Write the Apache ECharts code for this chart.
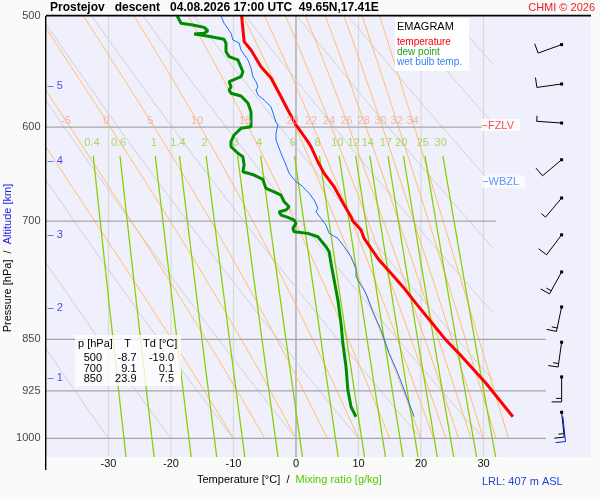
<!DOCTYPE html>
<html><head><meta charset="utf-8">
<script src="https://cdn.jsdelivr.net/npm/echarts@6/dist/echarts.min.js"></script>
<style>html,body{margin:0;padding:0;background:#fafafa}#c{width:600px;height:500px}</style>
</head><body><div id="c"></div>
<script>
// ---------------- data ----------------
const pressureTicks = [500, 600, 700, 850, 925, 1000];
const isotherms = [-30, -20, -10, 0, 10, 20, 30];
const isobars = [600, 700, 850, 925, 1000];
const isobarEndT = [31, 32, 40, 40, 40];
const altKm = [1, 2, 3, 4, 5];
const altP = [905.7, 807, 716, 634, 561];
const mixRatios = [0.4, 0.6, 1, 1.4, 2, 3, 4, 6, 8, 10, 12, 14, 17, 20, 25, 30];
const thetaW = [-10, -5, 0, 5, 10, 15, 20, 22, 24, 26, 28, 30, 32, 34];
const thetaDry = [-30, -20, -10, 0, 10, 20, 30, 40, 50, 60, 70, 80, 90];
// profiles: [pressure hPa, value degC]
const temperature = [[500,-8.7],[521.5,-8.3],[528.7,-7.2],[543.4,-5.6],[553.6,-4.0],[570.8,-2.4],[583.4,-1.3],[597.9,0.0],[614.5,1.9],[619.6,2.4],[635.1,3.5],[647.3,4.5],[661.7,6.1],[681.9,7.7],[695.1,8.8],[700,9.1],[710.4,10.4],[720.2,10.9],[732.1,12.0],[746.3,13.3],[762.7,15.2],[781.7,17.3],[801.2,19.2],[825.8,21.6],[850,23.9],[872.1,26.3],[913.5,30.4],[965.1,34.7]];
const dewPoint = [[500,-19.0],[506,-18.4],[507.4,-16.5],[509.4,-14.7],[512.2,-14.1],[514.4,-14.7],[515.0,-16.3],[516.0,-15.0],[517.3,-13.6],[519.5,-11.5],[522.9,-11.2],[530.2,-11.2],[534.5,-10.7],[537.4,-9.3],[547.9,-8.5],[552.4,-8.8],[555.4,-10.1],[556.9,-10.7],[561.5,-10.4],[564.6,-10.7],[567.6,-10.4],[570.2,-8.8],[576.7,-7.7],[585.1,-7.2],[599.6,-7.2],[601.2,-8.8],[607.8,-9.9],[614.5,-10.4],[619.6,-10.4],[626.3,-9.3],[629.9,-8.5],[638.5,-8.3],[645.6,-8.5],[649.1,-6.7],[653.7,-5.3],[658.0,-5.1],[663.4,-4.8],[667.2,-3.5],[670.8,-2.4],[678.2,-1.9],[683.8,-1.1],[687.5,-1.6],[689.4,-2.7],[693.2,-2.4],[695.8,-1.3],[698.9,-0.3],[702.7,0.0],[708.5,-0.5],[712.4,-0.3],[714.3,1.9],[718.3,3.5],[730.2,4.8],[736.2,5.3],[750.3,5.6],[771.2,6.1],[796.9,6.7],[828.0,7.2],[855.5,7.5],[889.0,8.0],[923.7,8.3],[949.4,8.8],[965.1,9.6]];
const wetBulb = [[500,-12.0],[506,-11.5],[514.2,-10.4],[515.8,-10.7],[520.1,-10.1],[522.6,-9.1],[528.7,-8.8],[537.4,-7.7],[544.5,-7.2],[552.4,-6.9],[556.9,-6.4],[561.5,-6.1],[564.6,-6.4],[569.2,-6.1],[573.9,-5.1],[580.3,-4.0],[595.1,-3.2],[597.9,-2.9],[605.8,-3.2],[612.8,-3.2],[626.3,-2.4],[638.5,-1.6],[647.3,-1.1],[656.3,0.0],[659.8,0.8],[668.9,2.1],[676.3,2.9],[685.6,3.5],[689.4,3.2],[696.9,4.0],[704.6,4.8],[714.3,5.3],[720.2,6.7],[730.2,7.7],[742.2,8.8],[756.5,9.6],[767.0,9.6],[788.2,11.2],[812.4,12.3],[837.1,13.6],[869.6,14.9],[898.7,16.3],[931.3,17.6],[965.1,18.9]];
// wind barbs
const windP = [958, 904, 854, 806, 761, 716, 674, 633, 596, 559, 524];
const windDir = [174, 180, 188, 192, 209, 217, 220, 230, 274, 262, 250];
const windSpd = [15, 15, 15, 15, 15, 10, 5, 10, 5, 10, 10];
const sfcWind = [965, 174, 10];
const fzlvP = 598, wbzlP = 656;
const tableP = [500, 700, 850];
const tableT = [-8.7, 9.1, 23.9];
const tableTd = [-19.0, 0.1, 7.5];

// ---------------- thermodynamics for the diagram background ----------------
const PTOP = 500, PBOT = 1031;
function esat(tc) { return 6.112 * Math.exp(17.67 * tc / (tc + 243.5)); }
function mixT(w, p) { const e = w * p / (622 + w); const l = Math.log(e / 6.112); return 243.5 * l / (17.67 - l); }
function dryT(th, p) { return (th + 273.15) * Math.pow(p / 1000, 0.2857) - 273.15; }
function moistLapse(p, T) {
  const e = esat(T - 273.15); const rs = 0.622 * e / (p - e);
  return (287.04 * T + 2.501e6 * rs) / (1005.7 + 2.501e6 * 2.501e6 * rs * 0.622 / (287.04 * T * T)) / p;
}
function moistLine(tw) {
  let p = 1000, T = tw + 273.15; const pts = [[tw, 1000]]; const dp = -2;
  while (p > PTOP + 0.01) {
    const k1 = moistLapse(p, T), k2 = moistLapse(p + dp / 2, T + k1 * dp / 2),
      k3 = moistLapse(p + dp / 2, T + k2 * dp / 2), k4 = moistLapse(p + dp, T + k3 * dp);
    T += dp * (k1 + 2 * k2 + 2 * k3 + k4) / 6; p += dp; pts.push([T - 273.15, p]);
  }
  return pts;
}
const FONT = 'Liberation Sans, Arial, sans-serif';
const series = [];
const lineBase = { type: 'line', showSymbol: false, symbol: 'none', silent: true, animation: false };

isotherms.forEach(t => series.push(Object.assign({}, lineBase, {
  z: 1, data: [[t, PTOP], [t, PBOT]],
  lineStyle: { color: t === 0 ? '#9c9c9c' : '#d9d9d9', width: 1.2 }
})));
const TCLIP = 31.5;
thetaDry.forEach(th => {
  const pc = 1000 * Math.pow((TCLIP + 273.15) / (th + 273.15), 1 / 0.2857);
  const pStart = Math.min(1000, pc);
  if (pStart <= PTOP) return;
  const pts = [];
  for (let p = pStart; p > PTOP; p -= 5) pts.push([dryT(th, p), p]);
  pts.push([dryT(th, PTOP), PTOP]);
  series.push(Object.assign({}, lineBase, { z: 2, data: pts, lineStyle: { color: '#d0d0d0', width: 1 } }));
});
const moistLabels = [];
thetaW.forEach(tw => {
  const pts = moistLine(tw);
  series.push(Object.assign({}, lineBase, { z: 3, data: pts, lineStyle: { color: '#ffbc6a', width: 1 } }));
  const lp = pts.reduce((a, b) => Math.abs(b[1] - 594) < Math.abs(a[1] - 594) ? b : a);
  if (lp[0] > -38.5) moistLabels.push([lp[0], 594, tw]);
});
const mixLabels = [];
mixRatios.forEach(w => {
  const pts = [];
  for (let p = 629; p < PBOT; p += 10) pts.push([mixT(w, p), p]);
  pts.push([mixT(w, PBOT), PBOT]);
  series.push(Object.assign({}, lineBase, { z: 4, data: pts, lineStyle: { color: '#8ad000', width: 1.3 } }));
  mixLabels.push([mixT(w, 616), 616, w]);
});
isobars.forEach((p, i) => series.push(Object.assign({}, lineBase, {
  z: 5, data: [[-40, p], [isobarEndT[i], p]], lineStyle: { color: '#a6a6a6', width: 1.3 }
})));
series.push(Object.assign({}, lineBase, { z: 10, data: wetBulb.map(d => [d[1], d[0]]), lineStyle: { color: '#1c6dff', width: 1 } }));
series.push(Object.assign({}, lineBase, { z: 11, data: dewPoint.map(d => [d[1], d[0]]), lineStyle: { color: '#008c00', width: 3 } }));
series.push(Object.assign({}, lineBase, { z: 12, data: temperature.map(d => [d[1], d[0]]), lineStyle: { color: '#ff0000', width: 3 } }));

const labelBase = { type: 'scatter', silent: true, animation: false, symbolSize: 1, itemStyle: { color: 'rgba(0,0,0,0)' }, clip: false };
series.push(Object.assign({}, labelBase, {
  z: 15, data: moistLabels,
  label: { show: true, position: 'inside', formatter: p => String(p.value[2]), color: '#f3a595', fontSize: 11, fontFamily: FONT }
}));
series.push(Object.assign({}, labelBase, {
  z: 15, data: mixLabels,
  label: { show: true, position: 'inside', formatter: p => String(p.value[2]), color: '#98d03c', fontSize: 11, fontFamily: FONT }
}));
series.push(Object.assign({}, labelBase, {
  z: 15, data: pressureTicks.map(p => [-39.99, p]),
  label: { show: true, position: 'left', distance: 5, formatter: p => String(p.value[1]), color: '#111', fontSize: 11, fontFamily: FONT }
}));
series.push(Object.assign({}, labelBase, {
  z: 15, data: altP.map((p, i) => [-39.99, p, altKm[i]]),
  label: { show: true, position: 'right', distance: 1, formatter: p => '\u2013 ' + p.value[2], color: '#1a1ae6', fontSize: 11, fontFamily: FONT }
}));
series.push(Object.assign({}, labelBase, {
  z: 16, data: [[29.6, fzlvP, '\u2212FZLV', 0], [29.7, wbzlP, '\u2212WBZL', 1]],
  label: {
    show: true, position: 'right', distance: 0, fontSize: 11, fontFamily: FONT,
    formatter: p => p.value[3] ? '{b|' + p.value[2] + '}' : '{r|' + p.value[2] + '}',
    backgroundColor: '#ffffff', padding: [1, 6, 0, 0],
    rich: { r: { color: '#ff2020', fontSize: 11, fontFamily: FONT }, b: { color: '#3377ff', fontSize: 11, fontFamily: FONT } }
  }
}));
const barbX = 42.5;
series.push({
  type: 'custom', coordinateSystem: 'cartesian2d', z: 20, silent: true, animation: false, clip: false,
  encode: { x: 0, y: 1 },
  data: windP.map((p, i) => [barbX, p, windDir[i], windSpd[i], 0]).concat([[barbX + 0.2, sfcWind[0], sfcWind[1], sfcWind[2], 1]]),
  renderItem: function (params, api) {
    const pt = api.coord([api.value(0), api.value(1)]);
    const d = api.value(2) * Math.PI / 180, spd = api.value(3), blue = api.value(4) === 1;
    const col = blue ? '#0a1cff' : '#000000';
    const ux = Math.sin(d), uy = -Math.cos(d), L = 25;
    const tip = [pt[0] + ux * L, pt[1] + uy * L];
    const bx = -uy, by = ux;
    const ch = [{ type: 'line', shape: { x1: pt[0], y1: pt[1], x2: tip[0], y2: tip[1] }, style: { stroke: col, lineWidth: 1 } }];
    let full = Math.floor(spd / 10), half = (spd - full * 10) >= 5 ? 1 : 0, pos = 0;
    const add = (len) => {
      const sx = tip[0] - ux * pos, sy = tip[1] - uy * pos;
      ch.push({ type: 'line', shape: { x1: sx, y1: sy, x2: sx + bx * len, y2: sy + by * len }, style: { stroke: col, lineWidth: 1 } });
      pos += 3.5;
    };
    for (let k = 0; k < full; k++) add(10);
    if (half) add(5.5);
    if (!blue) ch.push({ type: 'rect', shape: { x: pt[0] - 1.5, y: pt[1] - 1.5, width: 3, height: 3 }, style: { fill: '#000' } });
    return { type: 'group', children: ch };
  }
});

// ---------------- graphics (texts, boxes) ----------------
const tf = (o) => Object.assign({ fontFamily: FONT, fontSize: 11, fill: '#000' }, o);
const graphic = [
  { type: 'rect', z: 100, shape: { x: 46, y: 14.8, width: 545, height: 1.6 }, style: { fill: '#000' } },
  { type: 'rect', z: 100, shape: { x: 45, y: 16, width: 1.4, height: 454 }, style: { fill: '#000' } },
  { type: 'text', z: 100, x: 50, y: 7.5, style: tf({ text: 'Prostejov   descent   04.08.2026 17:00 UTC  49.65N,17.41E', fontSize: 12, fontWeight: 'bold', verticalAlign: 'middle' }) },
  { type: 'text', z: 100, x: 595, y: 7.5, style: tf({ text: 'CHMI \u00a9 2026', fill: '#ee1c1c', align: 'right', verticalAlign: 'middle' }) },
  { type: 'text', z: 100, x: 197, y: 479.5, style: tf({
      text: '{a|Temperature [\u00b0C]  /  }{b|Mixing ratio [g/kg]}', verticalAlign: 'middle',
      rich: { a: { fill: '#000', fontSize: 11, fontFamily: FONT }, b: { fill: '#55c800', fontSize: 11, fontFamily: FONT } } }) },
  { type: 'text', z: 100, x: 7.5, y: 258, rotation: Math.PI / 2, style: tf({
      text: '{a|Pressure [hPa]  /  }{b|Altitude [km]}', align: 'center', verticalAlign: 'middle',
      rich: { a: { fill: '#000', fontSize: 11, fontFamily: FONT }, b: { fill: '#1a1ae6', fontSize: 11, fontFamily: FONT } } }) },
  { type: 'text', z: 100, x: 482, y: 481.5, style: tf({ text: 'LRL: 407 m ASL', fill: '#2244dd', verticalAlign: 'middle' }) },
  // legend box
  { type: 'rect', z: 90, shape: { x: 395, y: 18, width: 74, height: 53 }, style: { fill: '#ffffff' } },
  { type: 'text', z: 100, x: 397, y: 26.5, style: tf({ text: 'EMAGRAM', verticalAlign: 'middle' }) },
  { type: 'text', z: 100, x: 397, y: 42, style: tf({ text: 'temperature', fill: '#ff0000', fontSize: 10, verticalAlign: 'middle' }) },
  { type: 'text', z: 100, x: 397, y: 52, style: tf({ text: 'dew point', fill: '#22a022', fontSize: 10, verticalAlign: 'middle' }) },
  { type: 'text', z: 100, x: 397, y: 62, style: tf({ text: 'wet bulb temp.', fill: '#3a7cff', fontSize: 10, verticalAlign: 'middle' }) },
  // table box
  { type: 'rect', z: 90, shape: { x: 75, y: 335, width: 106, height: 51 }, style: { fill: 'rgba(255,255,255,0.78)' } },
  { type: 'text', z: 100, x: 78, y: 343.5, style: tf({ text: 'p [hPa]', verticalAlign: 'middle' }) },
  { type: 'text', z: 100, x: 127.5, y: 343.5, style: tf({ text: 'T', align: 'center', verticalAlign: 'middle' }) },
  { type: 'text', z: 100, x: 143, y: 343.5, style: tf({ text: 'Td [\u00b0C]', verticalAlign: 'middle' }) }
];
tableP.forEach((p, i) => {
  const y = 358 + i * 10.5;
  graphic.push({ type: 'text', z: 100, x: 102, y: y, style: tf({ text: String(p), align: 'right', verticalAlign: 'middle' }) });
  graphic.push({ type: 'text', z: 100, x: 136.5, y: y, style: tf({ text: tableT[i].toFixed(1), align: 'right', verticalAlign: 'middle' }) });
  graphic.push({ type: 'text', z: 100, x: 174, y: y, style: tf({ text: tableTd[i].toFixed(1), align: 'right', verticalAlign: 'middle' }) });
});

const chart = echarts.init(document.getElementById('c'), null, { renderer: 'canvas' });
chart.setOption({
  animation: false,
  backgroundColor: '#fafafa',
  textStyle: { fontFamily: FONT },
  grid: { left: 46, top: 16, right: 9, bottom: 43, show: true, backgroundColor: '#f0f0fc', borderWidth: 0, containLabel: false, outerBoundsMode: 'none' },
  xAxis: {
    type: 'value', min: -40, max: 47.2, interval: 10,
    axisLine: { show: false }, axisTick: { show: false }, splitLine: { show: false },
    axisLabel: { show: true, margin: 1, color: '#111', fontSize: 11, fontFamily: FONT, formatter: v => (v < -35 || v > 35) ? '' : String(v) }
  },
  yAxis: {
    type: 'log', logBase: 10, min: PTOP, max: PBOT, inverse: true,
    axisLine: { show: false }, axisTick: { show: false }, splitLine: { show: false }, axisLabel: { show: false }
  },
  series: series,
  graphic: graphic
});
</script></body></html>
